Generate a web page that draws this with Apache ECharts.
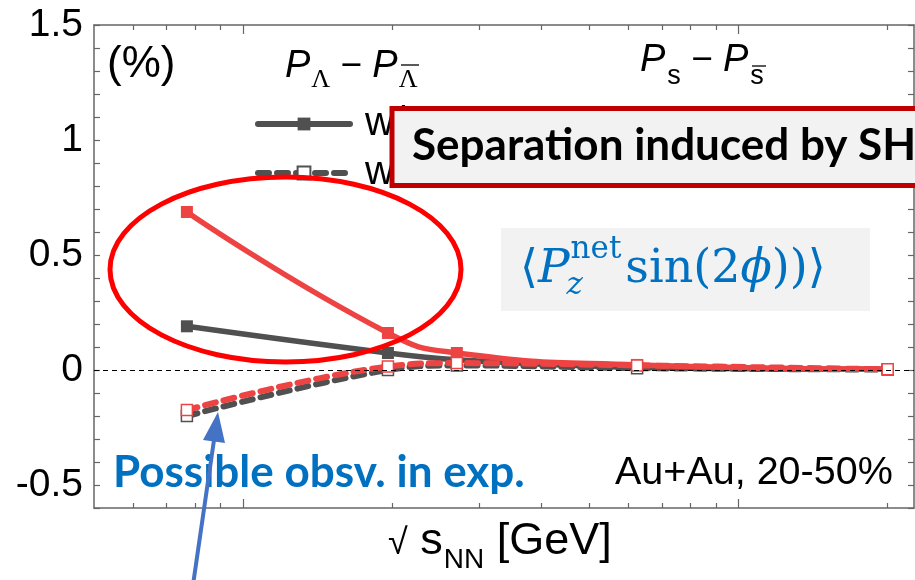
<!DOCTYPE html>
<html>
<head>
<meta charset="utf-8">
<script src="https://cdn.jsdelivr.net/npm/echarts@6.0.0/dist/echarts.min.js"></script>
<style>
  html, body { margin: 0; padding: 0; background: #fff; }
  #chart { width: 915px; height: 580px; }
</style>
</head>
<body>
<div id="chart"></div>
<script>
// Collision energies, sqrt(s_NN) in GeV
const energies = [7.7, 19.6, 27, 62.4, 200];
// Net polarization separation (%) with the spin Hall effect
const lambdaWith = [0.19, 0.074, 0.045, 0.012, 0.003];
const strangeWith = [0.687, 0.161, 0.074, 0.022, 0.004];
// ... and without it
const lambdaWithout = [-0.2, 0.0, 0.02, 0.008, 0.002];
const strangeWithout = [-0.174, 0.015, 0.03, 0.02, 0.003];
// Axis ticks
const yTickLabels = [-0.5, 0, 0.5, 1, 1.5];
const xMajorTicks = [10, 100];
const xMinorTicks = [6, 7, 8, 9, 20, 30, 40, 50, 60, 70, 80, 90, 200];
const legendNames = ['w/ SHE', 'w/o SHE'];

const GRAY = '#505050';
const RED = '#ee4343';
const BLUE = '#0070c0';
const AXIS = '#666666';
const DASH = [11, 8];

const chart = echarts.init(document.getElementById('chart'), null, { renderer: 'canvas' });

// Lay out a run of text pieces along one baseline, measuring each piece.
const measureCtx = document.createElement('canvas').getContext('2d');
function fontStr(p) {
  return (p.style || 'normal') + ' ' + (p.weight || 'normal') + ' ' + p.size + 'px ' + p.family;
}
function textRun(pieces, x, baseline, color, z) {
  const out = [];
  let cx = x;
  pieces.forEach(p => {
    const font = fontStr(p);
    measureCtx.font = font;
    const m = measureCtx.measureText(p.t);
    const mid = (m.fontBoundingBoxAscent - m.fontBoundingBoxDescent) / 2;
    const px = p.x !== undefined ? p.x : cx + (p.dx || 0);
    out.push({
      type: 'text', x: px, y: baseline + (p.dy || 0) - mid, z: z, silent: true,
      style: {
        text: p.t, font: font, fill: p.color || color,
        align: 'left', textAlign: 'left', verticalAlign: 'middle', textVerticalAlign: 'middle'
      }
    });
    if (!p.keep) cx = px + m.width;
  });
  return out;
}

function pts(arr) { return energies.map((e, i) => [e, arr[i]]); }

function xAxisDef(pos, ticks, len, showLine) {
  return {
    type: 'log', logBase: 10, min: 5, max: 226, position: pos,
    axisLine: { show: showLine, onZero: false, lineStyle: { color: AXIS, width: 1.5 } },
    axisTick: { show: true, inside: true, length: len, customValues: ticks, lineStyle: { color: AXIS, width: 1.2 } },
    axisLabel: { show: false }, splitLine: { show: false }, minorTick: { show: false }
  };
}
function yAxisDef(pos, labels) {
  return {
    type: 'value', min: -0.6, max: 1.5, interval: 0.1, position: pos,
    axisLine: { show: true, onZero: false, lineStyle: { color: AXIS, width: 1.5 } },
    axisTick: { show: true, inside: true, length: 6, lineStyle: { color: AXIS, width: 1.2 } },
    axisLabel: {
      show: labels, margin: 11, fontSize: 39, fontFamily: 'Liberation Sans', color: '#000',
      formatter: v => {
        const m = yTickLabels.find(t => Math.abs(t - v) < 1e-6);
        return m === undefined ? '' : String(m);
      }
    },
    splitLine: { show: false }
  };
}

const sans = 'Liberation Sans';
const serif = 'DejaVu Serif';
const lato = 'Lato';

const graphics = [];
// Panel headers
graphics.push(...textRun([{ t: '(%)', size: 44, family: sans }], 107, 80, '#000', 50));
graphics.push(...textRun([
  { t: 'P', size: 38, family: sans, style: 'italic' },
  { t: 'Λ', size: 26, family: 'Liberation Serif', dy: 10, dx: 1 },
  { t: ' − ', size: 37, family: sans },
  { t: 'P', size: 38, family: sans, style: 'italic' },
  { t: 'Λ', size: 26, family: 'Liberation Serif', dy: 10, dx: 1 }
], 285, 79, '#000', 50));
graphics.push({ type: 'line', z: 50, silent: true, shape: { x1: 401, y1: 65, x2: 419, y2: 65 }, style: { stroke: '#000', lineWidth: 1.3 } });
graphics.push(...textRun([
  { t: 'P', size: 38, family: sans, style: 'italic' },
  { t: 's', size: 27, family: sans, dy: 13, dx: 2 },
  { t: ' − ', size: 37, family: sans },
  { t: 'P', size: 38, family: sans, style: 'italic' },
  { t: 's', size: 27, family: sans, dy: 13, dx: 2 }
], 640, 73, '#000', 50));
graphics.push({ type: 'line', z: 50, silent: true, shape: { x1: 752, y1: 66, x2: 766, y2: 66 }, style: { stroke: '#000', lineWidth: 1.3 } });

// Highlight ellipse
graphics.push({ type: 'ellipse', z: 60, silent: true, shape: { cx: 285.5, cy: 269.5, rx: 175.5, ry: 92.5 },
  style: { fill: 'none', stroke: '#ff0000', lineWidth: 5 } });

// Callout box
graphics.push({ type: 'rect', z: 70, silent: true, shape: { x: 392, y: 108.5, width: 600, height: 77 },
  style: { fill: '#f2f2f2', stroke: '#c00000', lineWidth: 5 } });
graphics.push(...textRun([{ t: 'Separation induced by SHE', size: 44, family: lato, weight: 'bold' }], 412, 163, '#000', 71));

// Observable box
graphics.push({ type: 'rect', z: 40, silent: true, shape: { x: 501, y: 228, width: 369, height: 83 },
  style: { fill: '#f2f2f2' } });
graphics.push(...textRun([
  { t: '⟨', size: 46, family: serif },
  { t: 'P', size: 47, family: serif, style: 'italic' },
  { t: 'z', size: 31, family: serif, style: 'italic', dy: 11, dx: -3, keep: true },
  { t: 'net', size: 31, family: serif, dy: -25, dx: 1 },
  { t: 'sin(2', size: 46, family: serif, dx: 4 },
  { t: 'ϕ', size: 46, family: serif, style: 'italic' },
  { t: '))⟩', size: 46, family: serif }
], 520, 286, BLUE, 41));

// Notes
graphics.push(...textRun([{ t: 'Possible obsv. in exp.', size: 44, family: lato, weight: 'bold' }], 113, 490, BLUE, 50));
graphics.push(...textRun([{ t: 'Au+Au, 20-50%', size: 39.5, family: sans }], 615, 487, '#000', 50));

// Axis title
graphics.push(...textRun([
  { t: '√', size: 36, family: sans },
  { t: ' s', size: 45, family: sans },
  { t: 'NN', size: 28, family: sans, dy: 13, dx: 1 },
  { t: ' [GeV]', size: 45, family: sans }
], 388, 557, '#000', 50));

// Arrow
graphics.push({ type: 'line', z: 80, silent: true, shape: { x1: 193, y1: 585, x2: 214, y2: 440 },
  style: { stroke: '#4472c4', lineWidth: 4 } });
graphics.push({ type: 'polygon', z: 80, silent: true, shape: { points: [[218, 412], [225, 443], [203, 440]] },
  style: { fill: '#4472c4' } });

const option = {
  animation: false,
  backgroundColor: '#ffffff',
  grid: { left: 94, right: 1, top: 25, bottom: 72, containLabel: false },
  xAxis: [
    xAxisDef('bottom', xMajorTicks, 9, true),
    xAxisDef('bottom', xMinorTicks, 5, false),
    xAxisDef('top', xMajorTicks, 9, true),
    xAxisDef('top', xMinorTicks, 5, false)
  ],
  yAxis: [yAxisDef('left', true), yAxisDef('right', false)],
  legend: {
    data: [
      { name: legendNames[0], lineStyle: { width: 6, type: 'solid', cap: 'round' } },
      { name: legendNames[1], lineStyle: { width: 6, type: DASH, cap: 'round' } }
    ],
    orient: 'vertical', left: 250, top: 99,
    itemWidth: 92, itemHeight: 16, itemGap: 9, selectedMode: false,
    textStyle: { fontSize: 40, lineHeight: 40, fontFamily: sans, color: '#000', padding: [0, 0, 0, 10] }
  },
  series: [
    {
      name: legendNames[0], type: 'line', data: pts(lambdaWith), smooth: 0.4,
      symbol: 'rect', symbolSize: 12, itemStyle: { color: GRAY },
      lineStyle: { color: GRAY, width: 5.5, cap: 'round' }, z: 2
    },
    {
      name: legendNames[1], type: 'line', data: pts(lambdaWithout), smooth: 0.4,
      symbol: 'rect', symbolSize: 11, itemStyle: { color: '#ffffff', borderColor: GRAY, borderWidth: 1.5 },
      lineStyle: { color: GRAY, width: 6, type: DASH, cap: 'round' }, z: 2
    },
    {
      name: 'Ps w/ SHE', type: 'line', data: pts(strangeWith), smooth: 0.5,
      symbol: 'rect', symbolSize: 12, itemStyle: { color: RED },
      lineStyle: { color: RED, width: 5.5, cap: 'round' }, z: 3
    },
    {
      name: 'Ps w/o SHE', type: 'line', data: pts(strangeWithout), smooth: 0.4,
      symbol: 'rect', symbolSize: 11, itemStyle: { color: '#ffffff', borderColor: RED, borderWidth: 1.5 },
      lineStyle: { color: RED, width: 6, type: DASH, cap: 'round' }, z: 4,
      markLine: {
        silent: true, symbol: 'none', label: { show: false },
        lineStyle: { color: '#000', width: 1, type: [5, 4] },
        data: [{ yAxis: 0 }]
      }
    }
  ],
  graphic: graphics
};
chart.setOption(option);
</script>
</body>
</html>
